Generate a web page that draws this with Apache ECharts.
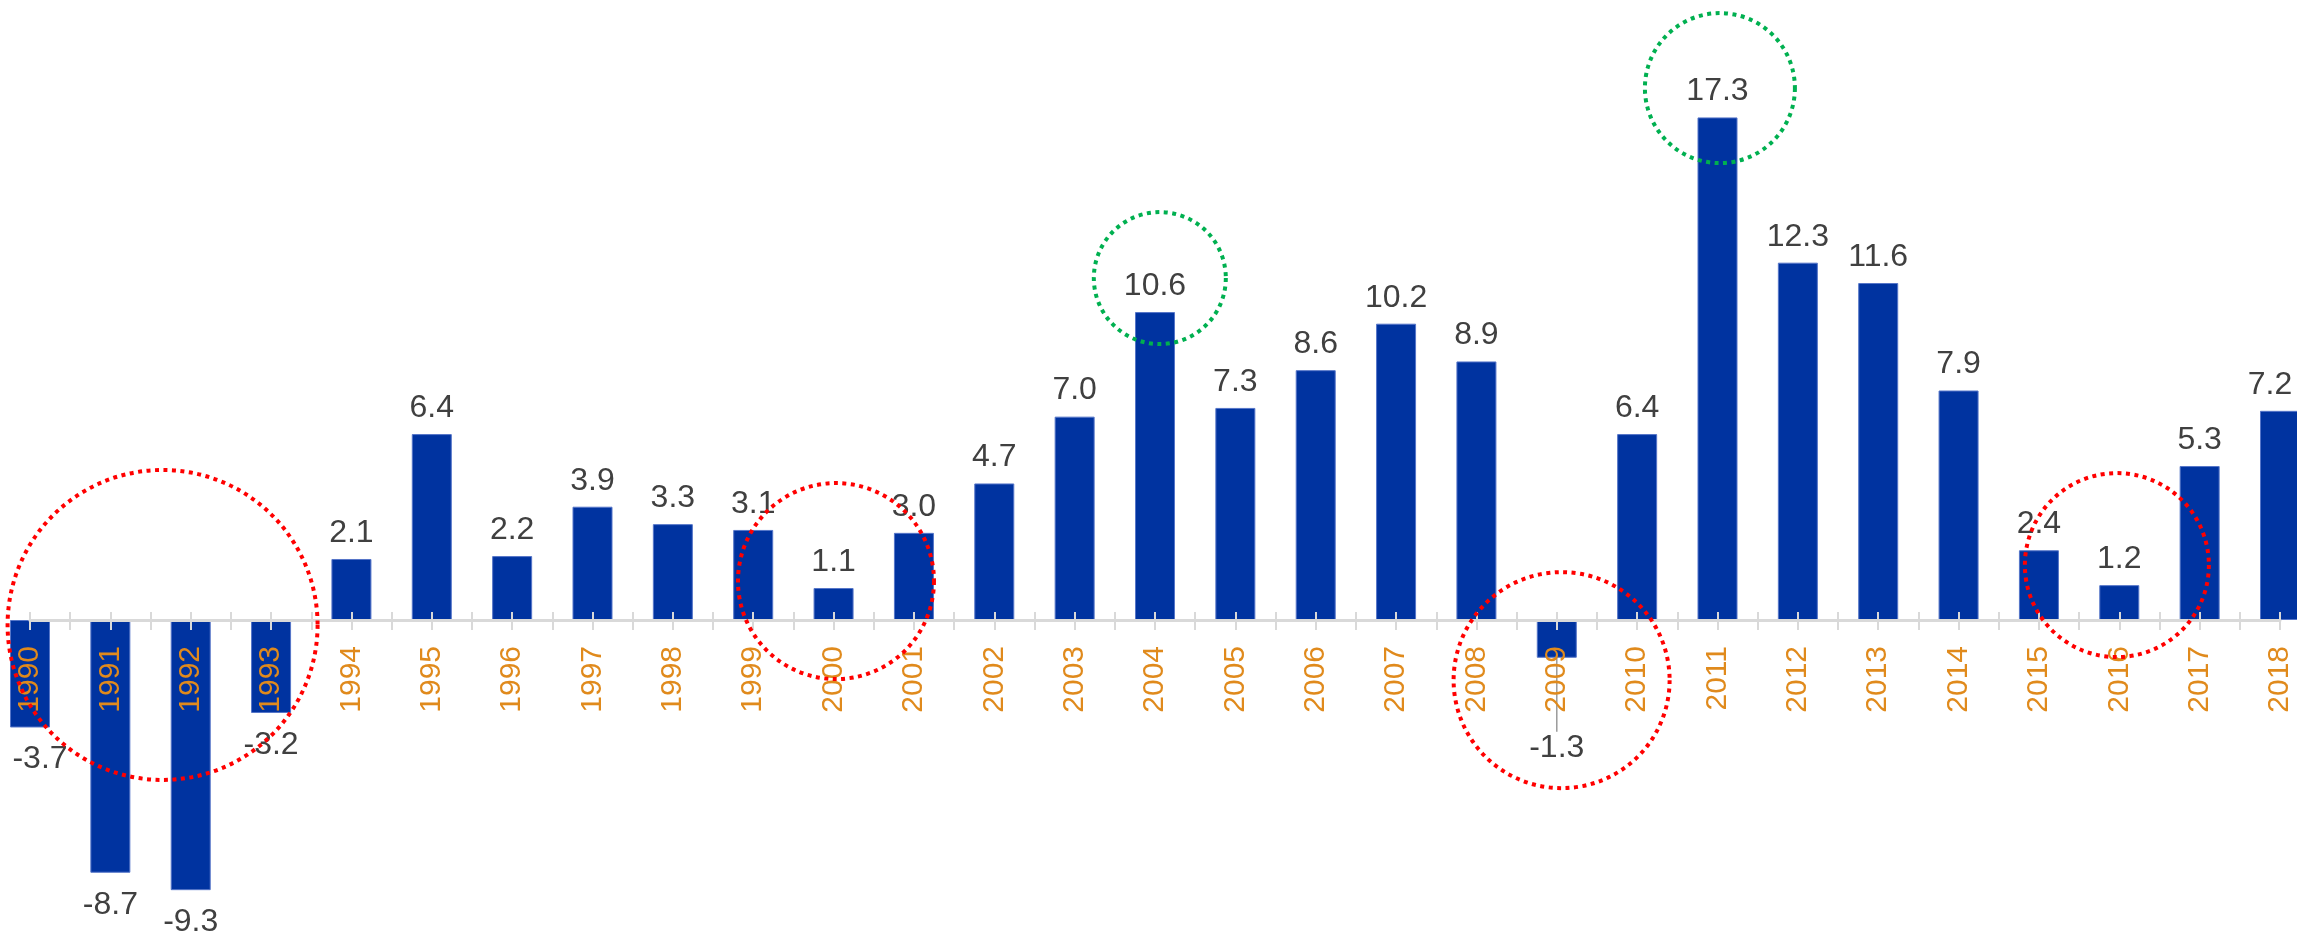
<!DOCTYPE html>
<html>
<head>
<meta charset="utf-8">
<script src="https://cdn.jsdelivr.net/npm/echarts@6/dist/echarts.min.js"></script>
<style>
  html,body{margin:0;padding:0;background:#fff;}
  #chart{width:2297px;height:937px;}
</style>
</head>
<body>
<div id="chart"></div>
<script>
// years on the x axis
const years = ['1990','1991','1992','1993','1994','1995','1996','1997','1998','1999',
	'2000','2001','2002','2003','2004','2005','2006','2007','2008','2009',
	'2010','2011','2012','2013','2014','2015','2016','2017','2018'];
// yearly values
const values = [-3.7,-8.7,-9.3,-3.2,2.1,6.4,2.2,3.9,3.3,3.1,
	1.1,3.0,4.7,7.0,10.6,7.3,8.6,10.2,8.9,-1.3,
	6.4,17.3,12.3,11.6,7.9,2.4,1.2,5.3,7.2];
// years whose label is pushed down with a guide line
const movedLabels = ['2009'];

// dotted rings drawn over the chart (x in category index, y in value units)
const redRings = [[1.65,-0.17,310],[10.03,1.34,196],[19.06,-2.07,216],[25.97,1.89,184]];
const greenRings = [[14.06,11.77,132],[21.03,18.31,150]];

const FONT = "'Liberation Sans', Arial, sans-serif";
const AXIS_GRAY = '#d9d9d9';
const BAR_WIDTH = 40;
const Y_MIN = -10, Y_MAX = 20;
const PLOT = {left:30,right:17,top:39,bottom:26.5};
// pixel row of value 0, so the axis grid ends right on it
const zeroY = PLOT.top + (937-PLOT.top-PLOT.bottom)*Y_MAX/(Y_MAX-Y_MIN);

let myChart = echarts.init(document.getElementById('chart'),null,{renderer:'canvas'});

let barData = values.map(function(v,i){
	let moved = movedLabels.indexOf(years[i])>=0;
	return {
		value:v,
		label:{position:v<0?'bottom':'top',distance:v<0?16:10},
		labelLine:{show:moved}
	};
});

function ringSeries(list,color){
	return {
		type:'scatter',
		xAxisIndex:1,
		yAxisIndex:0,
		z:6,
		silent:true,
		data:list.map(function(r){return [r[0],r[1],r[2]];}),
		symbol:'circle',
		symbolSize:function(d){return d[2];},
		itemStyle:{
			color:'transparent',
			borderColor:color,
			borderWidth:4,
			borderType:[4,4.5],
			opacity:1
		}
	};
}

// tick-only value axes, one pointing down and one up, so ticks cross the zero line
function tickAxis(inside){
	return {
		type:'value',
		gridIndex:1,
		min:0,
		max:28,
		interval:0.5,
		position:'bottom',
		z:5,
		axisLine:{show:false,onZero:false},
		axisLabel:{show:false},
		splitLine:{show:false},
		axisTick:{show:true,inside:inside,length:inside?8:10,lineStyle:{color:AXIS_GRAY,width:2}}
	};
}

let option = {
	animation:false,
	backgroundColor:'#fff',
	grid:[
		{left:PLOT.left,right:PLOT.right,top:PLOT.top,bottom:PLOT.bottom,outerBoundsMode:'none'},
		{left:PLOT.left,right:PLOT.right,top:0,height:zeroY,outerBoundsMode:'none'}
	],
	xAxis:[
		{type:'category',gridIndex:0,data:years,boundaryGap:false,show:false},
		{type:'value',gridIndex:0,min:0,max:28,show:false,splitLine:{show:false}},
		{
			type:'category',
			gridIndex:1,
			data:years,
			boundaryGap:false,
			position:'bottom',
			z:5,
			axisLine:{show:true,onZero:false,lineStyle:{color:AXIS_GRAY,width:3}},
			axisTick:{show:false},
			axisLabel:{
				interval:0,
				rotate:90,
				margin:26,
				color:'#E08A1C',
				fontSize:30,
				fontFamily:FONT
			},
			splitLine:{show:false}
		},
		tickAxis(false),
		tickAxis(true)
	],
	yAxis:[
		{type:'value',gridIndex:0,min:Y_MIN,max:Y_MAX,show:false,splitLine:{show:false}},
		{type:'value',gridIndex:1,min:0,max:1,show:false,splitLine:{show:false}}
	],
	series:[
		{
			type:'bar',
			xAxisIndex:0,
			yAxisIndex:0,
			data:barData,
			barWidth:BAR_WIDTH,
			clip:true,
			itemStyle:{color:'#0033A0',borderColor:'#5575c8',borderWidth:1},
			label:{
				show:true,
				color:'#404040',
				fontSize:32,
				fontFamily:FONT,
				formatter:function(p){return p.value.toFixed(1);}
			},
			labelLine:{show:false,lineStyle:{color:'#9a9a9a',width:1.5}},
			labelLayout:function(p){
				let out = {};
				if(movedLabels.indexOf(years[p.dataIndex])>=0){
					out.dy = 58;
				}
				// edge bars are half clipped: center label on the visible half
				if(p.dataIndex===0){ out.dx = BAR_WIDTH/4; }
				if(p.dataIndex===values.length-1){ out.dx = -BAR_WIDTH/4; }
				return out;
			}
		},
		ringSeries(redRings,'#FF0000'),
		ringSeries(greenRings,'#00B050')
	]
};

myChart.setOption(option);
</script>
</body>
</html>
